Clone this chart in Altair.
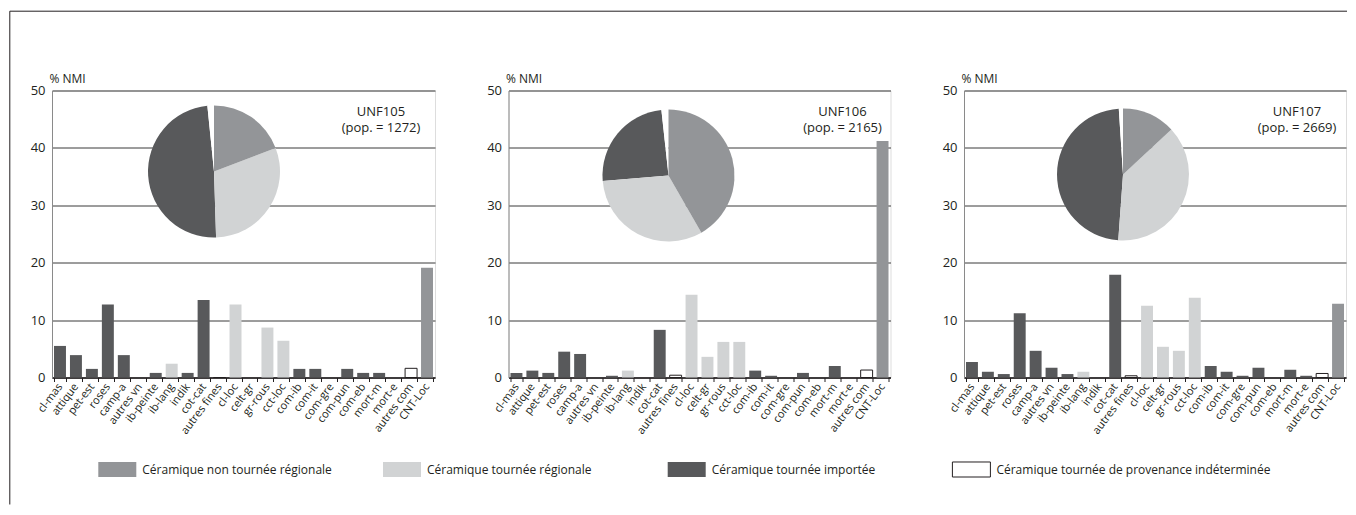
import altair as alt
import pandas as pd

FONT = "Open Sans"
INK = "#231f20"

categories = ["cl-mas", "attique", "pet-est", "roses", "camp-a", "autres vn", "ib-peinte",
              "ib-lang", "indik", "cot-cat", "autres fines", "cl-loc", "celt-gr", "gr-rous",
              "cct-loc", "com-ib", "com-it", "com-gre", "com-pun", "com-eb", "mort-m",
              "mort-e", "autres com", "CNT-Loc"]
# group index per category: 0 non tournée régionale, 1 tournée régionale, 2 importée, 3 indéterminée
cat_group = [2, 2, 2, 2, 2, 2, 2, 1, 2, 2, 3, 1, 1, 1, 1, 2, 2, 2, 2, 2, 2, 2, 3, 0]

group_labels = ["Céramique non tournée régionale", "Céramique tournée régionale",
                "Céramique tournée importée", "Céramique tournée de provenance indéterminée"]
group_colors = ["#939598", "#d1d3d4", "#58595b", "#ffffff"]

panel_names = ["UNF105", "UNF106", "UNF107"]
panel_pops = [1272, 2165, 2669]

values_unf105 = [5.5, 3.9, 1.5, 12.7, 3.9, 0, 0.8, 2.4, 0.8, 13.5, 0, 12.7, 0, 8.7, 6.4,
                 1.5, 1.5, 0, 1.5, 0.8, 0.8, 0, 1.6, 19.1]
values_unf106 = [0.8, 1.2, 0.8, 4.5, 4.1, 0, 0.3, 1.2, 0, 8.3, 0.4, 14.4, 3.6, 6.2, 6.2,
                 1.2, 0.3, 0, 0.8, 0, 2.0, 0, 1.3, 41.2]
values_unf107 = [2.7, 1.0, 0.6, 11.2, 4.65, 1.7, 0.6, 1.0, 0, 17.9, 0.3, 12.5, 5.35, 4.65, 13.9,
                 2.0, 1.0, 0.3, 1.7, 0, 1.35, 0.3, 0.7, 12.85]
panel_values = [values_unf105, values_unf106, values_unf107]

# styling / layout (pixels)
panel_widths = [383, 382, 382]
PLOT_H = 287
pie_centers = [(162, 81), (160, 85), (159, 84)]
pie_radius = 66
label_x = [329, 334, 333]
LEGEND_Y = 379
LEGEND_STEP = 284.7
LEGEND_FIRST = 65.3

color_scale = alt.Scale(domain=group_labels, range=group_colors)


def make_legend(width):
    legend_df = pd.DataFrame({"idx": [0, 1, 2, 3], "label": group_labels})
    lbase = alt.Chart(legend_df)
    d0 = -LEGEND_FIRST / LEGEND_STEP
    lx = alt.X("idx:Q", scale=alt.Scale(domain=[d0, d0 + width / LEGEND_STEP], nice=False,
                                        zero=False), axis=None)
    swatches = lbase.mark_point(
        shape="M-1,-0.395H1V0.395H-1Z", size=1444, filled=True, strokeWidth=1, opacity=1
    ).encode(
        x=lx, y=alt.value(LEGEND_Y),
        fill=alt.Color("label:N", scale=color_scale, legend=None),
        stroke=alt.condition(alt.datum.idx == 3, alt.value(INK), alt.value("transparent")),
    )
    ltext = lbase.mark_text(align="left", baseline="middle", dx=25, fontSize=12, font=FONT,
                            color=INK).encode(x=lx, y=alt.value(LEGEND_Y), text="label:N")
    return [swatches, ltext]


def make_panel(i):
    df = pd.DataFrame({
        "cat": categories,
        "group": [group_labels[g] for g in cat_group],
        "gorder": cat_group,
        "value": panel_values[i],
    })
    base = alt.Chart(df)
    bars = base.mark_bar(strokeWidth=1).encode(
        x=alt.X("cat:N", sort=categories,
                scale=alt.Scale(paddingInner=0.25, paddingOuter=0.125),
                axis=alt.Axis(title=None, labelAngle=-53, labelAlign="right",
                              labelBaseline="middle", labelFontSize=11, labelFont=FONT,
                              labelColor=INK, labelPadding=3, tickBand="extent",
                              tickSize=4, tickColor=INK, domainColor=INK, domainWidth=1.5,
                              grid=False)),
        y=alt.Y("value:Q", scale=alt.Scale(domain=[0, 50], nice=False),
                axis=alt.Axis(values=[0, 10, 20, 30, 40, 50], title="% NMI",
                              titleAngle=0, titleX=-3, titleY=-5, titleAlign="left",
                              titleBaseline="bottom", titleFontSize=12, titleFont=FONT,
                              titleFontWeight="normal", titleColor=INK,
                              labelFontSize=13, labelFont=FONT, labelColor=INK,
                              labelPadding=7, ticks=False, grid=True, gridColor="#3a3a3a",
                              gridWidth=1, domainColor="#8a8a8a", domainWidth=1)),
        color=alt.Color("group:N", scale=color_scale, legend=None),
        stroke=alt.condition(alt.datum.gorder == 3, alt.value(INK), alt.value("transparent")),
    )
    cx, cy = pie_centers[i]
    pie = base.transform_aggregate(
        total="sum(value)", groupby=["group", "gorder"]
    ).mark_arc(radius=pie_radius, strokeWidth=0).encode(
        theta=alt.Theta("total:Q", stack=True),
        order=alt.Order("gorder:Q"),
        color=alt.Color("group:N", scale=color_scale, legend=None),
        x=alt.value(cx), y=alt.value(cy),
    )
    t1 = alt.Chart(pd.DataFrame({"t": [panel_names[i]]})).mark_text(
        fontSize=13, font=FONT, color=INK).encode(
        text="t:N", x=alt.value(label_x[i]), y=alt.value(21))
    t2 = alt.Chart(pd.DataFrame({"t": [f"(pop. = {panel_pops[i]})"]})).mark_text(
        fontSize=13, font=FONT, color=INK).encode(
        text="t:N", x=alt.value(label_x[i]), y=alt.value(37))
    layers = [bars, pie, t1, t2]
    if i == 0:
        one = pd.DataFrame({"a": [0]})
        top = alt.Chart(one).mark_rule(color=INK, strokeWidth=1).encode(
            x=alt.value(-42.2), x2=alt.value(1295), y=alt.value(-79.3))
        left = alt.Chart(one).mark_rule(color=INK, strokeWidth=1).encode(
            x=alt.value(-42.2), y=alt.value(-79.3), y2=alt.value(414))
        layers += [top, left] + make_legend(panel_widths[0])
        return alt.layer(*layers).resolve_scale(x="independent").properties(
            width=panel_widths[i], height=PLOT_H)
    return alt.layer(*layers).properties(width=panel_widths[i], height=PLOT_H)


chart = alt.hconcat(*[make_panel(i) for i in range(3)], spacing=73.5, bounds="flush").properties(
    padding={"left": 0, "top": 1.5, "right": 0, "bottom": 0}
).configure_view(stroke=None).configure(font=FONT)

chart.save("out.html", embed_options={"renderer": "svg", "actions": False})
